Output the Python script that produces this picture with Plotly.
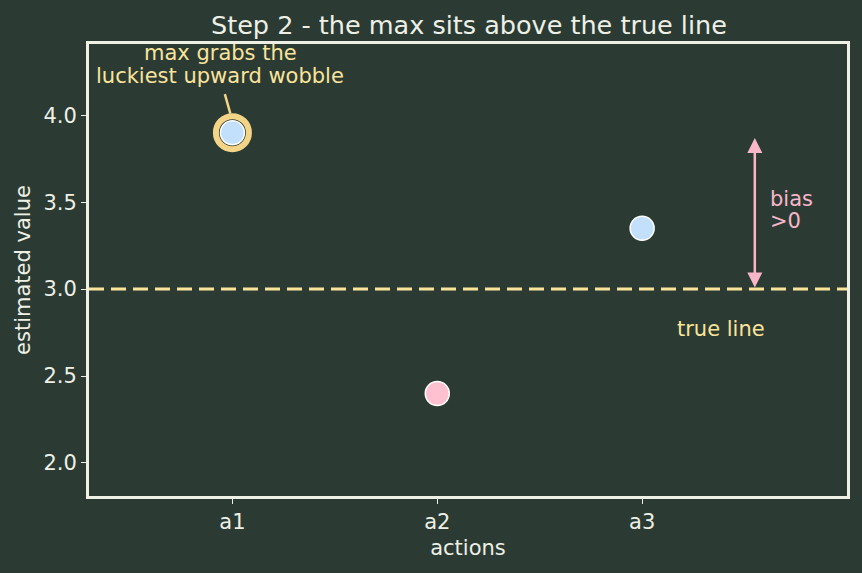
import plotly.graph_objects as go

actions = ["a1", "a2", "a3"]
estimates = [3.9, 2.4, 3.35]
point_colors = ["#c2e0fb", "#ffc1d0", "#c2e0fb"]
true_value = 3.0
max_idx = 0
bias_x = 2.55
bias_top = 3.87

BG = "#2b3b33"
FG = "#eef0e6"
GOLD = "#fbe39b"
PINK = "#f8b6c9"

xs = list(range(len(actions)))

fig = go.Figure()
# true line
fig.add_trace(go.Scatter(x=[-0.7, 3.0], y=[true_value, true_value], mode="lines",
                         line=dict(color=GOLD, width=3, dash="15px,7px"), hoverinfo="skip"))
# ring around max
fig.add_trace(go.Scatter(x=[xs[max_idx]], y=[estimates[max_idx]], mode="markers",
                         marker=dict(size=33, color="rgba(0,0,0,0)", line=dict(color="#f4d587", width=6))))
fig.add_trace(go.Scatter(x=xs, y=estimates, mode="markers",
                         marker=dict(size=24, color=point_colors, line=dict(color="#ffffff", width=1.5))))

fig.add_annotation(x=bias_x, y=bias_top, ax=bias_x, ay=true_value, xref="x", yref="y",
                   axref="x", ayref="y", text="", showarrow=True, arrowhead=2, startarrowhead=2,
                   arrowside="end+start", arrowsize=1.2, arrowwidth=2.5, arrowcolor=PINK,
                   standoff=0, startstandoff=0)
for txt, yy in [("bias", 3.52), (">0", 3.39)]:
    fig.add_annotation(x=2.615, y=yy, xref="x", yref="y", text=txt, showarrow=False,
                       xanchor="left", align="left", font=dict(color=PINK, size=21))
fig.add_annotation(x=2.385, y=2.77, xref="x", yref="y", text="true line", showarrow=False,
                   font=dict(color=GOLD, size=21))
# pointer line for max
fig.add_annotation(x=xs[max_idx] - 0.01, y=4.01, ax=xs[max_idx] - 0.039, ay=4.13,
                   xref="x", yref="y", axref="x", ayref="y", text="", showarrow=True,
                   arrowhead=0, arrowwidth=2.5, arrowcolor="#f4d587", standoff=0)
for txt, yy in [("max grabs the", 4.36), ("luckiest upward wobble", 4.228)]:
    fig.add_annotation(x=-0.06, y=yy, xref="x", yref="y", text=txt, showarrow=False,
                       font=dict(color=GOLD, size=21), align="center")

fig.update_layout(
    width=862, height=573, paper_bgcolor=BG, plot_bgcolor=BG,
    margin=dict(l=89, r=13, t=44, b=77), showlegend=False,
    font=dict(family="DejaVu Sans", color=FG, size=21),
    title=dict(text="Step 2 - the max sits above the true line", x=0.544, xanchor="center",
               y=0.956, yanchor="middle", font=dict(size=25.5, color=FG)),
)
fig.update_xaxes(range=[-0.7, 3.0], tickvals=xs, ticktext=actions, showgrid=False, zeroline=False,
                 showline=True, linecolor=FG, linewidth=3, mirror=True, ticks="outside",
                 ticklen=5, tickcolor=FG, tickfont=dict(size=21),
                 title=dict(text="actions", standoff=8, font=dict(size=21)))
fig.update_yaxes(range=[1.81, 4.41], tickvals=[2.0, 2.5, 3.0, 3.5, 4.0],
                 ticktext=["2.0", "2.5", "3.0", "3.5", "4.0"], showgrid=False, zeroline=False,
                 showline=True, linecolor=FG, linewidth=3, mirror=True, ticks="outside",
                 ticklen=5, tickcolor=FG, tickfont=dict(size=21),
                 title=dict(text="estimated value", standoff=8, font=dict(size=21)))
fig.write_html("out.html")
